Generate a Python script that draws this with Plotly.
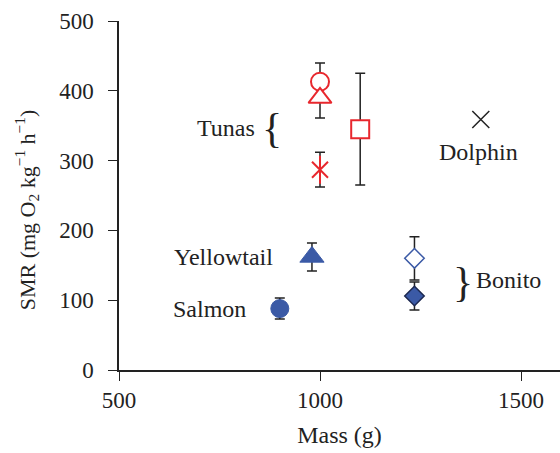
import plotly.graph_objects as go

# ---- data ----
species = ["Tunas circle", "Tunas triangle", "Tunas star", "Tunas square",
           "Dolphin", "Yellowtail", "Salmon", "Bonito open", "Bonito filled"]
mass = [1000, 1000, 1000, 1100, 1400, 980, 900, 1235, 1235]
smr = [413, 390, 287, 345, 359, 162, 88, 160, 106]
smr_err = [27, 29, 25, 80, 0, 20, 15, 31, 20]

x_ticks = [500, 1000, 1500]
y_ticks = [0, 100, 200, 300, 400, 500]

RED = "#e8272d"
BLUE = "#3b5aa6"
FONT = "Liberation Serif"
INK = "#222222"

fig = go.Figure()

# error bars first (drawn under all markers)
for i in range(len(mass)):
    if smr_err[i] > 0:
        fig.add_trace(go.Scatter(
            x=[mass[i]], y=[smr[i]], mode="markers",
            marker=dict(size=1, color="rgba(0,0,0,0)"),
            error_y=dict(type="data", array=[smr_err[i]], color=INK,
                         thickness=1.5, width=5),
            showlegend=False, hoverinfo="skip"))

def mk(i, symbol, size, color, line_color, line_width):
    fig.add_trace(go.Scatter(
        x=[mass[i]], y=[smr[i]], mode="markers", name=species[i],
        marker=dict(symbol=symbol, size=size, color=color,
                    line=dict(color=line_color, width=line_width)),
        showlegend=False))

mk(0, "circle", 18, "white", RED, 2)
mk(1, "triangle-up", 20, "white", RED, 2)
mk(2, "x-thin-open", 16, RED, RED, 2)
mk(2, "line-ns-open", 20, RED, RED, 2)
mk(3, "square", 18, "white", RED, 2)
mk(4, "x-thin-open", 17, INK, INK, 1.5)
mk(5, "triangle-up", 21, BLUE, BLUE, 1)
mk(6, "circle", 18, BLUE, BLUE, 1)
mk(7, "diamond", 15, "white", BLUE, 1.5)
mk(8, "diamond", 15, BLUE, "#1c2850", 1.5)

tf = dict(family=FONT, size=23, color=INK)
annos = [
    ("Tunas", 766, 347, 24),
    ("{", 880, 347, 42),
    ("Yellowtail", 759, 162, 24),
    ("Salmon", 724, 87, 24),
    ("Dolphin", 1395, 313, 24),
    ("}", 1356, 126, 42),
    ("Bonito", 1468, 129, 24),
]
for t, x, y, s in annos:
    fig.add_annotation(x=x, y=y, xref="x", yref="y", text=t, showarrow=False,
                       font=dict(family=FONT, size=s, color=INK))

# y-axis title as a rotated annotation for precise placement
fig.add_annotation(x=-0.209, y=0.46, xref="paper", yref="paper",
                   xanchor="center", yanchor="middle", textangle=-90,
                   text="SMR (mg O<sub>2</sub> kg<sup>\u22121</sup> h<sup>\u22121</sup>)",
                   showarrow=False, font=dict(family=FONT, size=22, color=INK))

fig.update_layout(
    width=560, height=453,
    margin=dict(l=119, r=0, t=21, b=83),
    plot_bgcolor="white", paper_bgcolor="white",
    font=tf,
    xaxis=dict(range=[500, 1597], tickvals=x_ticks, showgrid=False, zeroline=False,
               showline=True, linecolor=INK, linewidth=1.5, automargin=False,
               ticks="outside", ticklen=9, tickwidth=1.2, tickcolor=INK,
               tickfont=tf,
               title=dict(text="Mass (g)", font=dict(family=FONT, size=24, color=INK),
                          standoff=14)),
    yaxis=dict(range=[0, 500], tickvals=y_ticks, showgrid=False, zeroline=False,
               showline=True, linecolor=INK, linewidth=1.5, automargin=False,
               ticks="outside", ticklen=9, tickwidth=1.2, tickcolor=INK,
               tickfont=tf, ticklabelstandoff=10),
)

fig.write_html("out.html", config={"displayModeBar": False},
               post_script="document.body.style.margin='0px';")
